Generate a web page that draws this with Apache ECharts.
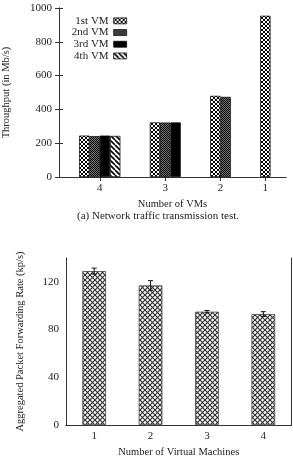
<!DOCTYPE html>
<html>
<head>
<meta charset="utf-8">
<script src="https://cdn.jsdelivr.net/npm/echarts@6/dist/echarts.min.js"></script>
<style>
  html, body { margin: 0; padding: 0; background: #fff; }
  #chart { width: 293px; height: 468px; }
</style>
</head>
<body>
<div id="chart"></div>
<script>
// top chart: throughput per VM, grouped by number of VMs
var vmGroups = ['4', '3', '2', '1'];
var vmNames = ['1st VM', '2nd VM', '3rd VM', '4th VM'];
var vm1 = [245, 323, 480, 954];
var vm2 = [242, 322, 474, null];
var vm3 = [245, 323, null, null];
var vm4 = [243, null, null, null];
var yTicksTop = [0, 200, 400, 600, 800, 1000];

// bottom chart: aggregated forwarding rate
var machines = ['1', '2', '3', '4'];
var rate = [129, 117, 95, 93];
var rateErr = [2.5, 4, 1, 2];
var yTicksBottom = [0, 40, 80, 120];

var font = 'Liberation Serif';
var txt = '#222';

// fill patterns (gnuplot like)
function pattern(size, draw) {
	var c = document.createElement('canvas');
	c.width = c.height = size;
	var ctx = c.getContext('2d');
	ctx.fillStyle = '#fff';
	ctx.fillRect(0, 0, size, size);
	draw(ctx, size);
	return { image: c, repeat: 'repeat' };
}
function back(ctx, s) { // "\" lines
	for (var k = -1; k <= 1; k++) {
		ctx.beginPath(); ctx.moveTo(k * s, 0); ctx.lineTo(k * s + s, s); ctx.stroke();
	}
}
function fwd(ctx, s) { // "/" lines
	for (var k = 0; k <= 2; k++) {
		ctx.beginPath(); ctx.moveTo(k * s, 0); ctx.lineTo(k * s - s, s); ctx.stroke();
	}
}
var fills = [
	pattern(4, function(ctx, s){ ctx.strokeStyle = '#000'; ctx.lineWidth = 1; back(ctx, s); fwd(ctx, s); }),
	pattern(2, function(ctx){ ctx.fillStyle = '#000'; ctx.fillRect(0,0,1,1); ctx.fillRect(1,1,1,1); ctx.fillStyle = '#777'; ctx.fillRect(1,0,1,1); ctx.fillRect(0,1,1,1); }),
	'#000',
	pattern(5, function(ctx, s){ ctx.strokeStyle = '#000'; ctx.lineWidth = 1.6; back(ctx, s); })
];
var fillBottom = pattern(5, function(ctx, s){ ctx.strokeStyle = '#333'; ctx.lineWidth = 1.2; back(ctx, s); fwd(ctx, s); });

// place clusters one after another along a unit axis (1 unit = 1 bar)
var vmSeries = [vm1, vm2, vm3, vm4];
var leftPad = 1.95, clusterGap = 2.85, xMax = 22;
var centers = [], barData = [[], [], [], []];
var cursor = leftPad;
for (var c = 0; c < vmGroups.length; c++) {
	var n = 0;
	for (var s = 0; s < vmSeries.length; s++) {
		if (vmSeries[s][c] != null) {
			barData[s].push([cursor + n + 0.5, vmSeries[s][c]]);
			n++;
		}
	}
	centers.push(cursor + n / 2);
	cursor += n + clusterGap;
}
function groupLabel(v) {
	var best = 0;
	for (var i = 1; i < centers.length; i++) if (Math.abs(centers[i] - v) < Math.abs(centers[best] - v)) best = i;
	return vmGroups[best];
}
function plain(v) { return String(v); }

var axisLine = { lineStyle: { color: '#333', width: 1 } };
var tickIn = { inside: true, length: 4, lineStyle: { color: '#333' } };
var labelStyle = { color: txt, fontFamily: font, fontSize: 11 };
var nameStyle = { color: txt, fontFamily: font, fontSize: 10.5 };

var series = [];
for (var s = 0; s < vmSeries.length; s++) {
	series.push({
		name: vmNames[s],
		type: 'bar',
		xAxisIndex: 0, yAxisIndex: 0,
		data: barData[s],
		barWidth: 10.3,
		barGap: '-100%',
		itemStyle: { color: fills[s], borderColor: '#000', borderWidth: 0.7 },
		animation: false
	});
}
series.push({
	name: 'rate',
	type: 'bar',
	xAxisIndex: 2, yAxisIndex: 2,
	data: rate,
	barWidth: '42%',
	itemStyle: { color: fillBottom, borderColor: '#444', borderWidth: 0.8 },
	animation: false
});
series.push({
	name: 'err',
	type: 'custom',
	xAxisIndex: 2, yAxisIndex: 2,
	data: rate.map(function(v, i){ return [i, v - rateErr[i], v + rateErr[i]]; }),
	renderItem: function(params, api) {
		var lo = api.coord([api.value(0), api.value(1)]);
		var hi = api.coord([api.value(0), api.value(2)]);
		var st = { stroke: '#111', lineWidth: 1 };
		return { type: 'group', children: [
			{ type: 'line', shape: { x1: lo[0], y1: lo[1], x2: hi[0], y2: hi[1] }, style: st },
			{ type: 'line', shape: { x1: lo[0] - 2.5, y1: lo[1], x2: lo[0] + 2.5, y2: lo[1] }, style: st },
			{ type: 'line', shape: { x1: hi[0] - 2.5, y1: hi[1], x2: hi[0] + 2.5, y2: hi[1] }, style: st }
		] };
	},
	z: 5,
	animation: false
});

var chart = echarts.init(document.getElementById('chart'), null, { renderer: 'canvas' });
chart.setOption({
	animation: false,
	grid: [
		{ left: 59, right: 7, top: 8, height: 169, outerBoundsMode: 'none' },
		{ left: 66, right: 1.5, top: 258, height: 167, outerBoundsMode: 'none' }
	],
	legend: {
		data: vmNames,
		orient: 'vertical',
		align: 'right',
		right: 161, top: 10,
		itemWidth: 13, itemHeight: 6, itemGap: 0,
		icon: 'rect',
		itemStyle: { borderColor: '#000', borderWidth: 0.7 },
		textStyle: { color: txt, fontFamily: font, fontSize: 11, lineHeight: 11.7 }
	},
	xAxis: [
		{ type: 'value', gridIndex: 0, min: 0, max: xMax,
		  name: 'Number of VMs', nameLocation: 'middle', nameGap: 22, nameTextStyle: nameStyle,
		  axisLine: axisLine, splitLine: { show: false },
		  axisTick: Object.assign({ customValues: centers }, tickIn),
		  axisLabel: Object.assign({ customValues: centers, margin: 6, formatter: groupLabel }, labelStyle) },
		{ type: 'value', gridIndex: 0, min: 0, max: xMax, position: 'top',
		  axisLine: axisLine, splitLine: { show: false },
		  axisTick: Object.assign({ customValues: centers }, tickIn),
		  axisLabel: { show: false } },
		{ type: 'category', gridIndex: 1, data: machines,
		  name: 'Number of Virtual Machines', nameLocation: 'middle', nameGap: 22, nameTextStyle: nameStyle,
		  axisLine: axisLine,
		  axisTick: Object.assign({ alignWithLabel: true }, tickIn),
		  axisLabel: Object.assign({ margin: 6 }, labelStyle) },
		{ type: 'category', gridIndex: 1, data: machines, position: 'top',
		  axisLine: axisLine,
		  axisTick: Object.assign({ alignWithLabel: true }, tickIn),
		  axisLabel: { show: false } }
	],
	yAxis: [
		{ type: 'value', gridIndex: 0, min: yTicksTop[0], max: yTicksTop[yTicksTop.length - 1], interval: 200,
		  name: 'Throughput (in Mb/s)', nameLocation: 'middle', nameGap: 47, nameTextStyle: nameStyle,
		  axisLine: Object.assign({ show: true }, axisLine), splitLine: { show: false },
		  axisTick: tickIn,
		  axisLabel: Object.assign({ margin: 7, formatter: plain }, labelStyle) },
		{ type: 'value', gridIndex: 0, min: yTicksTop[0], max: yTicksTop[yTicksTop.length - 1], interval: 200, position: 'right',
		  axisLine: Object.assign({ show: true }, axisLine), splitLine: { show: false },
		  axisTick: tickIn, axisLabel: { show: false } },
		{ type: 'value', gridIndex: 1, min: 0, max: 140, interval: 40,
		  name: 'Aggregated Packet Forwarding Rate (kp/s)', nameLocation: 'middle', nameGap: 40, nameTextStyle: nameStyle,
		  axisLine: Object.assign({ show: true }, axisLine), splitLine: { show: false },
		  axisTick: Object.assign({ customValues: yTicksBottom }, tickIn),
		  axisLabel: Object.assign({ margin: 7, customValues: yTicksBottom, formatter: plain }, labelStyle) },
		{ type: 'value', gridIndex: 1, min: 0, max: 140, interval: 40, position: 'right',
		  axisLine: Object.assign({ show: true }, axisLine), splitLine: { show: false },
		  axisTick: Object.assign({ customValues: yTicksBottom }, tickIn), axisLabel: { show: false } }
	],
	graphic: [
		{ type: 'text', x: 158, y: 211,
		  style: { text: '(a) Network traffic transmission test.', fill: txt, font: '11px "Liberation Serif"', textAlign: 'center', textVerticalAlign: 'top' } }
	],
	series: series
});
</script>
</body>
</html>
